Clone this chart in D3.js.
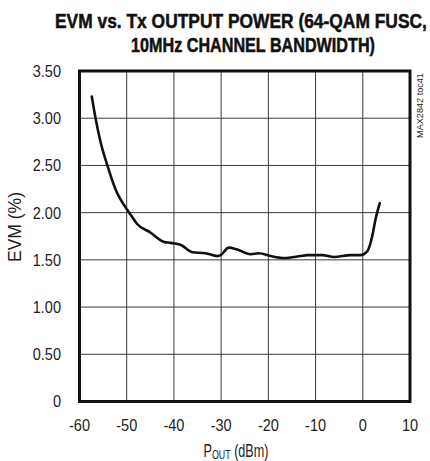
<!DOCTYPE html>
<html>
<head>
<meta charset="utf-8">
<script src="https://cdn.jsdelivr.net/npm/d3@7"></script>
<style>
  html, body { margin: 0; padding: 0; background: #fff; }
  svg { display: block; }
  text { font-family: "Liberation Sans", Arial, sans-serif; }
</style>
</head>
<body>
<script>
// ---- data ----
const powerDbm = [-57.4, -56.6, -55.5, -54.1, -52.4, -49.9, -49.2, -47.8, -45.0, -42.1, -40.7, -38.6, -36.1, -33.3, -30.8, -30.1, -28.4, -26.6, -23.8, -22.0, -19.5, -16.7, -13.2, -11.8, -8.6, -6.1, -2.6, -0.5, 0.95, 2.0, 2.7, 3.6];
const evmPct   = [3.23, 3.00, 2.74, 2.50, 2.25, 2.03, 1.98, 1.88, 1.79, 1.69, 1.68, 1.66, 1.58, 1.57, 1.54, 1.55, 1.63, 1.61, 1.56, 1.57, 1.54, 1.52, 1.54, 1.55, 1.55, 1.53, 1.55, 1.55, 1.59, 1.75, 1.93, 2.10];
const xTicks = [-60, -50, -40, -30, -20, -10, 0, 10];
const yTicks = [0, 0.5, 1.0, 1.5, 2.0, 2.5, 3.0, 3.5];
const yTickLabels = ["0", "0.50", "1.00", "1.50", "2.00", "2.50", "3.00", "3.50"];
const titleLines = ["EVM vs. Tx OUTPUT POWER (64-QAM FUSC,", "10MHz CHANNEL BANDWIDTH)"];
const watermark = "MAX2842 toc41";

const W = 430, H = 461;
const m = { left: 79.5, right: 410, top: 71, bottom: 401.5 };
const NARROW = 0.88;

const svg = d3.select("body").append("svg").attr("width", W).attr("height", H);

const x = d3.scaleLinear().domain([-60, 10]).range([m.left, m.right]);
const y = d3.scaleLinear().domain([0, 3.5]).range([m.bottom, m.top]);

function place(t, px, py, rot, sx) {
  t.attr("x", 0).attr("y", 0)
   .attr("transform", `translate(${px},${py})` + (rot ? ` rotate(${rot})` : "") + ` scale(${sx},1)`);
}
function fitWidth(t, target) {
  return target / t.node().getComputedTextLength();
}

// grid
const g = svg.append("g");
g.selectAll("line.vx").data(xTicks.slice(1, -1)).join("line")
  .attr("x1", d => x(d)).attr("x2", d => x(d))
  .attr("y1", m.top).attr("y2", m.bottom)
  .attr("stroke", "#3a3a3a").attr("stroke-width", 1);
g.selectAll("line.hy").data(yTicks.slice(1, -1)).join("line")
  .attr("y1", d => y(d)).attr("y2", d => y(d))
  .attr("x1", m.left).attr("x2", m.right)
  .attr("stroke", "#3a3a3a").attr("stroke-width", 1);

// curve
const pts = powerDbm.map((p, i) => [p, evmPct[i]]);
svg.append("path").datum(pts)
  .attr("fill", "none").attr("stroke", "#111").attr("stroke-width", 2.6)
  .attr("stroke-linejoin", "round").attr("stroke-linecap", "round")
  .attr("d", d3.line().x(d => x(d[0])).y(d => y(d[1])).curve(d3.curveMonotoneX));

// frame
svg.append("rect")
  .attr("x", m.left).attr("y", m.top)
  .attr("width", m.right - m.left).attr("height", m.bottom - m.top)
  .attr("fill", "none").attr("stroke", "#111").attr("stroke-width", 3);

// x tick labels
svg.append("g")
  .selectAll("text").data(xTicks).join("text")
  .attr("text-anchor", "middle").attr("font-size", 16.5).attr("fill", "#222")
  .text(d => d)
  .each(function (d) { place(d3.select(this), x(d), 431, 0, NARROW); });

// y tick labels
svg.append("g")
  .selectAll("text").data(yTicks).join("text")
  .attr("text-anchor", "end").attr("font-size", 16.5).attr("fill", "#222")
  .attr("dy", "0.36em")
  .text((d, i) => yTickLabels[i])
  .each(function (d) { place(d3.select(this), 61, y(d), 0, NARROW); });

// x axis title
const xt = svg.append("text").attr("text-anchor", "middle")
  .attr("font-size", 18.5).attr("fill", "#222");
xt.append("tspan").text("P");
xt.append("tspan").attr("font-size", 13).attr("dy", 2).text("OUT");
xt.append("tspan").attr("dy", -2).text(" (dBm)");
place(xt, 236, 456.5, 0, fitWidth(xt, 65));

// y axis title
const yt = svg.append("text").attr("text-anchor", "middle")
  .attr("font-size", 17.5).attr("fill", "#222").text("EVM (%)");
place(yt, 21, 227, -90, fitWidth(yt, 70));

// watermark
const wm = svg.append("text").attr("text-anchor", "middle")
  .attr("font-size", 9.5).attr("fill", "#222").text(watermark);
place(wm, 423, 105.5, -90, fitWidth(wm, 65));

// title
const t1 = svg.append("text").attr("text-anchor", "start")
  .attr("font-size", 19.5).attr("font-weight", "bold").attr("fill", "#111")
  .attr("stroke", "#111").attr("stroke-width", 0.5)
  .text(titleLines[0]);
place(t1, 55, 27.5, 0, fitWidth(t1, 372));
const t2 = svg.append("text").attr("text-anchor", "middle")
  .attr("font-size", 19.5).attr("font-weight", "bold").attr("fill", "#111")
  .attr("stroke", "#111").attr("stroke-width", 0.5)
  .text(titleLines[1]);
place(t2, 253, 51.5, 0, fitWidth(t2, 244));
</script>
</body>
</html>
